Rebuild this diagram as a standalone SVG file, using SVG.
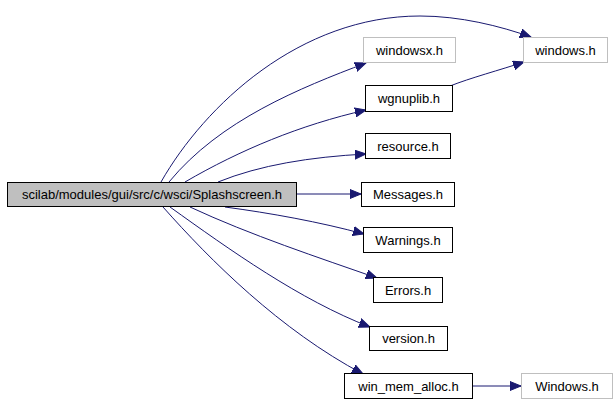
<svg xmlns="http://www.w3.org/2000/svg" width="615" height="402" viewBox="0 0 615 402">
<style>
.n rect{fill:#fff;stroke:#000;stroke-width:1}
.n.g rect{stroke:#bfbfbf}
.n.m rect{fill:#bfbfbf}
.n text{font-family:"Liberation Sans",Arial,sans-serif;font-size:13px;fill:#000;text-anchor:middle}
.e path{fill:none;stroke:#191970;stroke-width:1}
</style>
<defs>
<marker id="ah" markerUnits="userSpaceOnUse" markerWidth="12" markerHeight="10" refX="11" refY="4.5" orient="auto" viewBox="0 0 12 9">
<path d="M0,0 L11,4.5 L0,9 Z" fill="#191970" stroke="#191970"/>
</marker>
</defs>
<rect width="615" height="402" fill="#fff"/>
<g id="edges" class="e">
<path d="M161,182 C205,105 300,16 420,16 C460,16 500,26 531,37" marker-end="url(#ah)"/>
<path d="M169,182 C220,120 300,88 366,63" marker-end="url(#ah)"/>
<path d="M185,182 C240,150 300,125 366,110" marker-end="url(#ah)"/>
<path d="M218,182 C260,165 310,157 366,154" marker-end="url(#ah)"/>
<path d="M297,194 L361,194" marker-end="url(#ah)"/>
<path d="M225,207 C270,213 320,222 364,234" marker-end="url(#ah)"/>
<path d="M190,207 C250,235 320,258 377,278" marker-end="url(#ah)"/>
<path d="M170,207 C230,250 300,300 370,327" marker-end="url(#ah)"/>
<path d="M163,207 C210,260 280,330 363,374" marker-end="url(#ah)"/>
<path d="M450,86 C470,78 500,70 524,62" marker-end="url(#ah)"/>
<path d="M473,386 L521,386" marker-end="url(#ah)"/>
</g>
<g id="n_splash" class="n m"><rect x="7.5" y="182.5" width="289" height="24"/><text x="152" y="199">scilab/modules/gui/src/c/wsci/Splashscreen.h</text></g>
<g id="n_windowsx" class="n g"><rect x="363.5" y="37.5" width="92" height="25"/><text x="409.5" y="55">windowsx.h</text></g>
<g id="n_windows" class="n g"><rect x="523.5" y="37.5" width="84" height="25"/><text x="565.5" y="55">windows.h</text></g>
<g id="n_wgnuplib" class="n"><rect x="365.5" y="85.5" width="87" height="26"/><text x="409" y="103">wgnuplib.h</text></g>
<g id="n_resource" class="n"><rect x="365.5" y="133.5" width="85" height="25"/><text x="408" y="151">resource.h</text></g>
<g id="n_messages" class="n"><rect x="361.5" y="182.5" width="93" height="24"/><text x="408" y="199">Messages.h</text></g>
<g id="n_warnings" class="n"><rect x="363.5" y="227.5" width="89" height="25"/><text x="408" y="245">Warnings.h</text></g>
<g id="n_errors" class="n"><rect x="373.5" y="277.5" width="69" height="25"/><text x="408" y="295">Errors.h</text></g>
<g id="n_version" class="n"><rect x="369.5" y="326.5" width="78" height="24"/><text x="408.5" y="343">version.h</text></g>
<g id="n_winmem" class="n"><rect x="344.5" y="373.5" width="128" height="25"/><text x="408.5" y="391">win_mem_alloc.h</text></g>
<g id="n_Windows" class="n g"><rect x="521.5" y="373.5" width="91" height="25"/><text x="567" y="391">Windows.h</text></g>
</svg>
